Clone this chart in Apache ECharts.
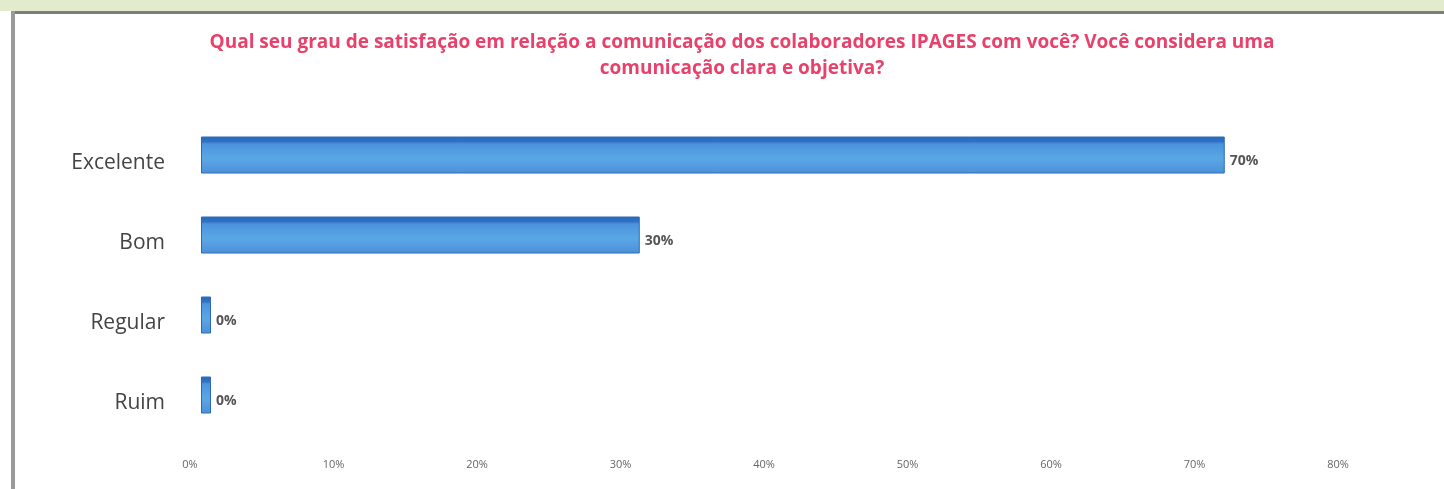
<!DOCTYPE html>
<html>
<head>
<meta charset="utf-8">
<script src="https://cdn.jsdelivr.net/npm/echarts@6/dist/echarts.min.js"></script>
<style>
html,body{margin:0;padding:0;background:#fff;}
#chart{width:1444px;height:489px;}
</style>
</head>
<body>
<div id="chart"></div>
<script>
const titleText = 'Qual seu grau de satisfação em relação a comunicação dos colaboradores IPAGES com você? Você considera uma\ncomunicação clara e objetiva?';
const categories = ['Excelente', 'Bom', 'Regular', 'Ruim'];
const values = [70, 30, 0, 0];
const xTicks = [0, 10, 20, 30, 40, 50, 60, 70, 80];

const chart = echarts.init(document.getElementById('chart'));
chart.setOption({
  backgroundColor: '#ffffff',
  animation: false,
  graphic: [
    { type: 'rect', shape: { x: 0, y: 0, width: 1444, height: 11 }, style: { fill: '#e3ebcf' } },
    { type: 'rect', shape: { x: 12, y: 11, width: 1432, height: 3 }, style: { fill: '#7d7d7d' } },
    { type: 'rect', shape: { x: 11, y: 11, width: 4, height: 478 }, style: { fill: '#9a9a9a' } }
  ],
  title: {
    text: titleText,
    left: 737,
    top: 25,
    textAlign: 'center',
    textStyle: {
      fontFamily: 'Open Sans',
      fontSize: 19,
      fontWeight: 'bold',
      color: '#e8416b',
      lineHeight: 26
    }
  },
  grid: [
    { left: 201, top: 115, width: 1170, height: 320 },
    { left: 190, top: 123, width: 1148, height: 320 }
  ],
  xAxis: [
    {
      type: 'value', gridIndex: 0, min: 0, max: 80, interval: 10,
      show: false
    },
    {
      type: 'value', gridIndex: 1, min: 0, max: 80, interval: 10,
      axisLine: { show: false },
      axisTick: { show: false },
      splitLine: { show: false },
      axisLabel: {
        margin: 16,
        fontFamily: 'Open Sans',
        fontSize: 11,
        color: '#666',
        formatter: function (v) { return xTicks.indexOf(v) >= 0 ? v + '%' : ''; }
      }
    }
  ],
  yAxis: [
    {
      type: 'category', gridIndex: 0, inverse: true, data: categories,
      show: false
    },
    {
      type: 'category', gridIndex: 1, inverse: true, data: categories,
      axisLine: { show: false },
      axisTick: { show: false },
      axisLabel: {
        margin: 25,
        fontFamily: 'Open Sans',
        fontSize: 21,
        color: '#444'
      }
    }
  ],
  series: [{
    type: 'bar',
    xAxisIndex: 0,
    yAxisIndex: 0,
    data: values,
    barWidth: 37,
    barMinHeight: 10,
    itemStyle: {
      color: new echarts.graphic.LinearGradient(0, 0, 0, 1, [
        { offset: 0, color: '#2c69b8' },
        { offset: 0.14, color: '#2f72c4' },
        { offset: 0.2, color: '#4b93dc' },
        { offset: 0.6, color: '#5aa7e6' },
        { offset: 1, color: '#4b90d8' }
      ]),
      borderColor: '#2e6ab4',
      borderWidth: 1
    },
    label: {
      show: true,
      position: 'right',
      distance: 5,
      offset: [0, 6],
      fontFamily: 'Open Sans',
      fontSize: 14,
      fontWeight: 'bold',
      color: '#555',
      formatter: function (p) { return p.value + '%'; }
    }
  }]
});
</script>
</body>
</html>
